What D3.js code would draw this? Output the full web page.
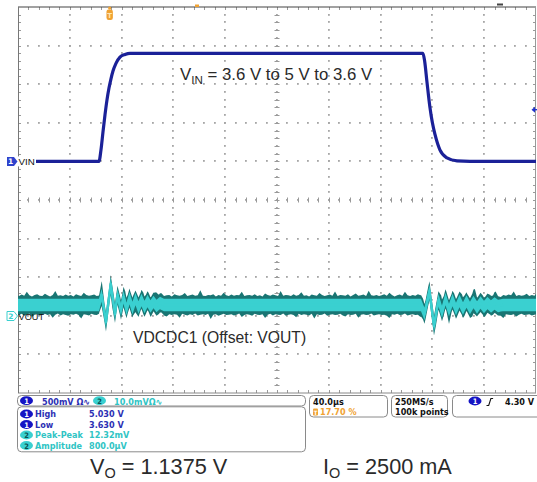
<!DOCTYPE html>
<html><head><meta charset="utf-8">
<script src="https://cdn.jsdelivr.net/npm/d3@7"></script>
<style>body{margin:0;background:#fff}svg{display:block}</style>
</head><body><svg id="c" width="537" height="482"></svg>
<script>
// ---------------- data ----------------
const timePerDiv = 40;            // µs / div
const timeDomain = [-70.8, 329.2]; // trigger at 17.70 %
const voltsPerDiv = 0.5;          // CH1 500 mV/div
const ch1Domain = [0.63, 5.63];
const mVPerDiv = 10;              // CH2 10 mV/div
const ch2Domain = [-22.8, 77.2];

// CH1 : VIN (µs, V)
const vinTime  = [-70.8, -8.26, -6.72, -5.17, -3.63, -2.08, -0.54, 1.00, 2.55, 4.86, 7.95, 11.81, 15.68,
                  241.9, 243.2, 245.0, 247.3, 249.2, 251.2, 255.0, 260.5, 268.2, 278.2, 329.2];
const vinVolts = [3.63, 3.63, 3.779, 4.012, 4.232, 4.427, 4.58, 4.70, 4.80, 4.90, 4.98, 5.015, 5.03,
                  5.03, 4.93, 4.66, 4.33, 4.13, 3.98, 3.78, 3.675, 3.636, 3.63, 3.63];

// CH2 : VOUT ringing (µs, mV)
const ring1Time = [-10, -8.26, -6.18, -2.86, 0.77, 4.09, 6.02, 8.73, 10.66, 12.97, 15.29, 17.61, 19.92, 22.24, 24.56, 26.88, 29.19, 31.51, 33.82, 36.14, 38.84, 41.93];
const ring1mV   = [0, 0, 2.59, -4.40, 5.44, -2.33, 2.59, -1.30, 2.07, -1.04, 1.81, -0.78, 1.55, -0.65, 1.30, -0.52, 1.04, -0.39, 0.78, -0.26, 0.52, 0];
const ring2Time = [240.39, 243.09, 246.95, 250.43, 253.90, 256.60, 259.31, 262.01, 264.71, 267.42, 270.12, 272.82, 275.52, 278.22, 280.93, 283.63, 286.33, 289.03, 291.74, 294.44, 297.14, 299.84, 303.70];
const ring2mV   = [0, -2.33, 3.63, -5.44, 1.30, -1.81, 1.55, -1.30, 1.30, -1.04, 1.04, -0.91, 0.91, -0.78, 0.78, -0.65, 0.65, -0.52, 0.52, -0.39, 0.39, -0.26, 0];

// CH2 noise envelope (mV above / below the trace), sampled every 2 µs from -72 µs
const noiseStart = -72, noiseStep = 2;
const noiseHi = [
  2.5,2.3,2.7,2.4,3.4,2.5,2.2,2.6,2.8,2.4, 2.3,2.9,2.5,2.2,2.6,3.6,2.4,2.5,2.3,2.7,
  2.4,2.6,2.2,2.8,2.5,2.3,3.2,2.6,2.4,2.5, 2.7,2.3,2.5,3.7,2.4,2.6,2.2,2.5,2.8,2.4,
  2.6,2.3,3.3,2.5,2.4,2.7,2.2,2.6,2.5,3.0, 2.4,2.6,2.3,2.5,3.5,2.4,2.7,2.3,2.5,2.6,
  2.2,2.8,2.5,2.4,2.6,3.1,2.3,2.5,2.7,2.4, 2.5,3.8,2.4,2.3,2.6,2.5,2.8,2.2,2.6,2.4,
  3.2,2.5,2.3,2.7,2.4,2.6,2.5,3.4,2.3,2.5, 2.6,2.4,2.8,2.3,2.5,2.2,3.0,2.6,2.4,2.7,
  2.5,2.3,3.6,2.4,2.6,2.5,2.3,2.8,2.4,2.6, 3.3,2.4,2.5,2.2,2.7,2.5,2.4,3.1,2.6,2.3,
  2.5,2.7,2.4,3.5,2.3,2.6,2.5,2.4,2.8,2.2, 2.6,3.0,2.4,2.5,2.7,2.3,3.7,2.5,2.4,2.6,
  2.3,2.5,2.8,2.4,3.2,2.6,2.2,2.5,2.7,2.4, 3.4,2.5,2.3,2.6,2.4,2.8,2.5,3.0,2.3,2.6,
  2.4,2.7,2.5,2.3,3.6,2.4,2.6,2.5,2.2,2.8, 2.5,2.4,3.1,2.6,2.3,2.5,2.7,3.9,2.4,2.5,
  2.6,2.3,2.5,2.8,2.4,3.3,2.5,2.2,2.6,2.4, 2.7,2.5,3.5,2.3,2.6,2.4,2.5,2.9,2.3,2.6, 2.4,3.2];
const noiseLo = [
  2.4,2.6,2.3,2.8,2.5,2.2,3.1,2.5,2.4,2.7, 2.5,2.3,2.6,2.4,3.3,2.5,2.2,2.7,2.4,2.6,
  2.8,2.4,2.5,2.3,2.6,3.5,2.4,2.5,2.7,2.3, 2.5,2.6,2.2,2.9,2.4,2.5,2.6,3.2,2.3,2.5,
  2.4,2.7,2.5,2.3,2.6,2.4,3.4,2.5,2.2,2.6, 2.5,2.3,2.8,2.4,2.5,2.6,2.3,2.7,3.0,2.4,
  2.6,2.4,2.5,3.3,2.3,2.5,2.7,2.4,2.6,2.2, 2.7,2.5,2.4,2.6,2.3,3.6,2.5,2.4,2.8,2.5,
  2.3,2.6,2.5,2.4,2.7,2.5,2.2,3.1,2.6,2.4, 2.5,2.8,2.3,2.5,2.6,2.4,3.4,2.5,2.3,2.7,
  2.4,2.5,2.6,2.2,2.8,2.5,2.4,2.6,3.2,2.3, 2.6,2.4,2.5,2.7,2.3,3.5,2.4,2.6,2.5,2.2,
  2.8,2.5,2.4,2.6,2.5,2.3,2.7,3.0,2.4,2.6, 2.5,2.3,3.3,2.5,2.4,2.6,2.5,2.2,2.7,2.5,
  2.4,2.6,2.5,2.8,3.4,2.4,2.5,2.3,2.6,2.5, 2.2,2.7,2.5,2.4,2.6,2.5,3.1,2.4,2.6,2.3,
  2.5,2.4,2.8,2.5,2.3,2.6,2.4,3.6,2.5,2.4, 2.6,2.5,2.3,2.7,2.4,2.5,3.2,2.6,2.3,2.5,
  2.4,2.8,2.5,2.3,2.6,2.4,2.5,2.7,3.4,2.4, 2.5,2.6,2.4,3.0,2.5,2.3,2.6,2.5,2.4,2.7, 2.5,2.3];

// readouts
const ch1Scale = "500mV Ω∿", ch2Scale = "10.0mVΩ∿";
const measLabels = ["High", "Low", "Peak-Peak", "Amplitude"];
const measValues = ["5.030 V", "3.630 V", "12.32mV", "800.0µV"];
const measCh = [1, 1, 2, 2];
const timebase = "40.0µs", trigPos = "17.70 %";
const sampleRate = "250MS/s", recLen = "100k points";
const trigLevel = "4.30 V";
const trigLevelV = 4.30;

// ---------------- drawing ----------------
const svg = d3.select('#c');
const L = 18, R = 536, T = 7, B = 393;
const X = d3.scaleLinear().domain(timeDomain).range([L, R]);
const Y1 = d3.scaleLinear().domain(ch1Domain).range([B, T]);
const Y2 = d3.scaleLinear().domain(ch2Domain).range([B, T]);

const majorT = d3.range(11).map(i => timeDomain[0] + i * timePerDiv);
const minorT = d3.range(51).map(i => timeDomain[0] + i * timePerDiv / 5);
const majorV = d3.range(11).map(i => ch1Domain[0] + i * voltsPerDiv);
const minorV = d3.range(51).map(i => ch1Domain[0] + i * voltsPerDiv / 5);
const centerT = majorT[5], centerV = majorV[5];

const BLUE = '#1b2198', CYAN = '#3ad0d0', TEAL = '#197573', ORANGE = '#f0a232';
const TXTBLUE = '#2c30b4', TXTCYAN = '#2fc4c4';

// dotted graticule
const grid = svg.append('g');
const dotsV = [];
majorT.slice(1, -1).forEach(t => minorV.slice(1, -1).forEach(v => dotsV.push({ t, v })));
majorV.slice(1, -1).forEach(v => minorT.slice(1, -1).forEach(t => dotsV.push({ t, v })));
grid.selectAll('rect.dot').data(dotsV).join('rect').attr('class', 'dot')
  .attr('x', d => Math.round(X(d.t)) - 1).attr('y', d => Math.round(Y1(d.v)) - 1)
  .attr('width', 1.8).attr('height', 1.8).attr('fill', '#a6a6a6');

// tick marks: center cross and border ticks
const hTicks = (y, y0, y1, color) => grid.append('g').selectAll('line').data(minorT.slice(1, -1)).join('line')
  .attr('x1', d => Math.round(X(d)) + 0.5).attr('x2', d => Math.round(X(d)) + 0.5)
  .attr('y1', y + y0).attr('y2', y + y1).attr('stroke', color).attr('stroke-width', 1);
const vTicks = (x, x0, x1, color) => grid.append('g').selectAll('line').data(minorV.slice(1, -1)).join('line')
  .attr('y1', d => Math.round(Y1(d)) + 0.5).attr('y2', d => Math.round(Y1(d)) + 0.5)
  .attr('x1', x + x0).attr('x2', x + x1).attr('stroke', color).attr('stroke-width', 1);
const yc = Math.round(Y1(centerV)), xc = Math.round(X(centerT));
hTicks(yc, -2.5, 2.5, '#999');
vTicks(xc, -2.5, 2.5, '#999');
hTicks(B, -3, 0, '#999');
hTicks(T, 0, 3, '#999');
vTicks(L, 0, 3, '#999');
vTicks(R, -3, 0, '#999');
// border lines
grid.append('line').attr('x1', L).attr('x2', R).attr('y1', T).attr('y2', T).attr('stroke', '#444').attr('stroke-width', 1.2);
grid.append('line').attr('x1', L).attr('x2', R).attr('y1', B).attr('y2', B).attr('stroke', '#888');
grid.append('line').attr('x1', L + 0.5).attr('x2', L + 0.5).attr('y1', T).attr('y2', B).attr('stroke', '#777');
grid.append('line').attr('x1', R - 0.5).attr('x2', R - 0.5).attr('y1', T).attr('y2', B).attr('stroke', '#999');

// clip
svg.append('clipPath').attr('id', 'plot').append('rect')
  .attr('x', L).attr('y', T).attr('width', R - L).attr('height', B - T);
const plot = svg.append('g').attr('clip-path', 'url(#plot)');

// CH2 band
const envT = noiseHi.map((_, i) => noiseStart + i * noiseStep);
const ringT = ring1Time.concat(ring2Time), ringV = ring1mV.concat(ring2mV);
const ringS = d3.scaleLinear().domain(ringT).range(ringV).clamp(true);
const hiS = d3.scaleLinear().domain(envT).range(noiseHi);
const loS = d3.scaleLinear().domain(envT).range(noiseLo);
const ts = Array.from(new Set(envT.concat(ringT))).sort((a, b) => a - b);
const band = ts.map(t => ({ t, c: ringS(t), hi: hiS(t), lo: loS(t) }));
const coreHalf = 1.6;
plot.append('path').datum(band)
  .attr('d', d3.area().x(d => X(d.t)).y0(d => Y2(d.c - d.lo)).y1(d => Y2(d.c + d.hi)))
  .attr('fill', TEAL);
plot.append('path').datum(band)
  .attr('d', d3.area().x(d => X(d.t)).y0(d => Y2(d.c - coreHalf)).y1(d => Y2(d.c + coreHalf)))
  .attr('fill', CYAN);
const ringPts = ringT.map((t, i) => ({ t, v: ringV[i] }));
plot.append('path').datum(ringPts)
  .attr('d', d3.line().x(d => X(d.t)).y(d => Y2(d.v)))
  .attr('fill', 'none').attr('stroke', CYAN).attr('stroke-width', 2.4).attr('stroke-linejoin', 'round');

// CH1 trace
const vin = vinTime.map((t, i) => ({ t, v: vinVolts[i] }));
plot.append('path').datum(vin)
  .attr('d', d3.line().x(d => X(d.t)).y(d => Y1(d.v)).curve(d3.curveMonotoneX))
  .attr('fill', 'none').attr('stroke', BLUE).attr('stroke-width', 3.2);

// channel markers
const yVin = Y1(vinVolts[0]);
svg.append('rect').attr('x', 6).attr('y', yVin - 5).attr('width', 30).attr('height', 10).attr('fill', '#fff');
svg.append('path').attr('d', `M7,${yVin - 4.5}h7l3.5,4.5l-3.5,4.5h-7z`).attr('fill', '#2f43cc');
svg.append('text').attr('x', 10.5).attr('y', yVin + 3).attr('text-anchor', 'middle')
  .attr('font-family', 'DejaVu Sans').attr('font-size', 7.5).attr('font-weight', 'bold').attr('fill', '#fff').text('1');
svg.append('text').attr('x', 18.5).attr('y', yVin + 4).attr('font-family', 'Liberation Sans, Arial')
  .attr('font-size', 9.8).attr('fill', '#111').text('VIN');

const yVo = 316;
svg.append('path').attr('d', `M7,${yVo - 4.5}h7l3.5,4.5l-3.5,4.5h-7z`).attr('fill', '#fff').attr('stroke', CYAN).attr('stroke-width', 1);
svg.append('text').attr('x', 10.8).attr('y', yVo + 3).attr('text-anchor', 'middle')
  .attr('font-family', 'DejaVu Sans').attr('font-size', 7.5).attr('font-weight', 'bold').attr('fill', CYAN).text('2');
svg.append('text').attr('x', 18.5).attr('y', yVo + 4).attr('font-family', 'Liberation Sans, Arial')
  .attr('font-size', 9.2).attr('fill', '#111').text('VOUT');

// trigger markers
const xTrig = X(0);
svg.append('circle').attr('cx', xTrig).attr('cy', 8).attr('r', 1.6).attr('fill', ORANGE);
svg.append('rect').attr('x', xTrig - 3.2).attr('y', 9.5).attr('width', 6.4).attr('height', 10.5).attr('rx', 2.2).attr('fill', ORANGE);
svg.append('text').attr('x', xTrig).attr('y', 17.5).attr('text-anchor', 'middle').attr('font-family', 'DejaVu Sans')
  .attr('font-size', 7).attr('font-weight', 'bold').attr('fill', '#ffe6b0').text('T');
svg.append('rect').attr('x', 195).attr('y', 4.5).attr('width', 4).attr('height', 2.5).attr('fill', ORANGE);
svg.append('rect').attr('x', 497).attr('y', 3.5).attr('width', 6).attr('height', 2).attr('fill', '#444');
const yTl = Y1(trigLevelV);
svg.append('path').attr('d', `M531.5,${yTl}l3.5,-3v6z`).attr('fill', '#2233cc');
svg.append('line').attr('x1', 534).attr('x2', 537).attr('y1', yTl).attr('y2', yTl).attr('stroke', '#2233cc').attr('stroke-width', 1.4);

// annotations
const big = (x, y, main, sub, rest, size, subSize, drop) => {
  const t = svg.append('text').attr('x', x).attr('y', y).attr('font-family', 'Liberation Sans, Arial')
    .attr('font-size', size).attr('fill', '#2a2a2a');
  t.append('tspan').text(main);
  t.append('tspan').attr('font-size', subSize).attr('dy', drop).text(sub);
  t.append('tspan').attr('dy', -drop).text(rest);
};
big(180, 80, 'V', 'IN', ' = 3.6 V to 5 V to 3.6 V', 16.8, 11.6, 4.4);
svg.append('text').attr('x', 133).attr('y', 343).attr('font-family', 'Liberation Sans, Arial')
  .attr('font-size', 15.7).attr('fill', '#2a2a2a').text('VDCDC1 (Offset: VOUT)');
big(90, 474, 'V', 'O', ' = 1.1375 V', 21.7, 14.5, 4.3);
big(323, 474, 'I', 'O', ' = 2500 mA', 21.7, 14.5, 4.3);

// readout boxes
const status = svg.append('g').attr('font-family', 'DejaVu Sans Condensed, DejaVu Sans')
  .attr('font-stretch', 'condensed').attr('font-weight', 'bold').attr('font-size', 9);
const box = (x, y, w, h) => status.append('rect').attr('x', x).attr('y', y).attr('width', w).attr('height', h)
  .attr('rx', 4).attr('fill', '#fff').attr('stroke', '#8a8a8a').attr('stroke-width', 1);
const st = (x, y, s, c) => status.append('text').attr('x', x).attr('y', y).attr('fill', c).text(s);
const badge = (cx, cy, ch) => {
  status.append('ellipse').attr('cx', cx).attr('cy', cy).attr('rx', 6.5).attr('ry', 4.4)
    .attr('fill', ch === 1 ? '#1414c4' : CYAN);
  status.append('text').attr('x', cx).attr('y', cy + 3).attr('text-anchor', 'middle').attr('font-size', 7.5)
    .attr('fill', ch === 1 ? '#fff' : '#0b5050').text(ch);
};
box(17.5, 395.5, 288, 10.5);
badge(26.5, 400.7, 1); st(42, 404.8, ch1Scale, TXTBLUE);
badge(99.5, 400.7, 2); st(114, 404.8, ch2Scale, TXTCYAN);
box(17.5, 406.8, 288, 45);
measLabels.forEach((m, i) => {
  const y = 414 + i * 10.5;
  badge(26.5, y, measCh[i]);
  const c = measCh[i] === 1 ? TXTBLUE : TXTCYAN;
  st(35, y + 3.4, m, c);
  st(89, y + 3.4, measValues[i], c);
});
box(309.5, 395.5, 78, 21.5);
st(313, 404.8, timebase, '#111');
status.append('rect').attr('x', 313).attr('y', 408.5).attr('width', 5).attr('height', 7).attr('rx', 1).attr('fill', ORANGE);
status.append('text').attr('x', 315.5).attr('y', 414.5).attr('text-anchor', 'middle').attr('font-size', 6).attr('fill', '#fff').text('T');
st(320, 415, trigPos, ORANGE);
box(391.5, 395.5, 56, 21.5);
st(395, 404.8, sampleRate, '#111');
st(395, 414.8, recLen, '#111');
box(452.5, 395.5, 95, 21.5);
badge(475, 401, 1);
status.append('path').attr('d', 'M486.5,405.5h2.2l2.2,-7h2.2').attr('fill', 'none').attr('stroke', '#111').attr('stroke-width', 1.1);
st(505, 404.8, trigLevel, '#111');
</script></body></html>
